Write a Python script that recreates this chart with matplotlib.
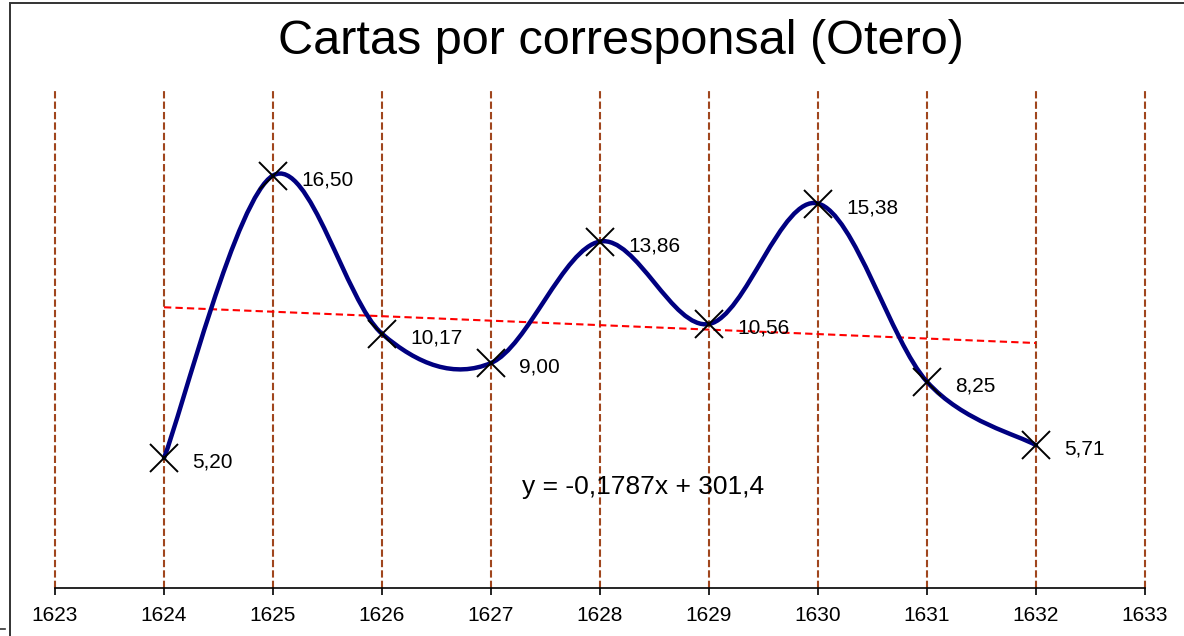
import numpy as np
import matplotlib
matplotlib.use("Agg")
import matplotlib.pyplot as plt
from matplotlib.path import Path
from matplotlib.patches import PathPatch, Rectangle
from matplotlib.lines import Line2D

plt.rcParams['font.family'] = ['Liberation Sans', 'DejaVu Sans']

# data
years = [1624, 1625, 1626, 1627, 1628, 1629, 1630, 1631, 1632]
cartas = [5.20, 16.50, 10.17, 9.00, 13.86, 10.56, 15.38, 8.25, 5.71]
labels = ['5,20', '16,50', '10,17', '9,00', '13,86', '10,56', '15,38', '8,25', '5,71']
xticks = list(range(1623, 1634))
equation = 'y = -0,1787x + 301,4'

fig = plt.figure(figsize=(11.84, 6.36), dpi=100)
ax = fig.add_axes([55/1184, 48/636, 1090/1184, 500/636])
ax.set_xlim(1623, 1633)
ax.set_ylim(0, 20)

# vertical dashed grid lines
for x in xticks:
    ax.axvline(x, color='#A0461E', lw=1.5, dashes=(3.5, 1.5), zorder=1, clip_on=False)

# smoothed line (excel-like bezier through points)
x = np.array(years, dtype=float)
y = np.array(cartas)
px = np.concatenate([[x[0]], x, [x[-1]]])
py = np.concatenate([[y[0]], y, [y[-1]]])
verts = [(x[0], y[0])]
codes = [Path.MOVETO]
for i in range(1, len(px) - 2):
    c1 = (px[i] + (px[i+1] - px[i-1]) / 6, py[i] + (py[i+1] - py[i-1]) / 6)
    c2 = (px[i+1] - (px[i+2] - px[i]) / 6, py[i+1] - (py[i+2] - py[i]) / 6)
    verts += [c1, c2, (px[i+1], py[i+1])]
    codes += [Path.CURVE4] * 3
ax.add_patch(PathPatch(Path(verts, codes), fill=False, edgecolor='#000080',
                       lw=3.2, zorder=3, capstyle='round', joinstyle='round'))

ax.plot(years, cartas, ls='none', marker='x', ms=20, mew=1.4, color='black', zorder=4)

# trend line
m, b = np.polyfit(x, y, 1)
ax.plot([x[0], x[-1]], [m * x[0] + b, m * x[-1] + b], color='#FF0000', lw=1.5,
        dashes=(3.5, 2), zorder=2)

for xi, yi, lab in zip(years, cartas, labels):
    ax.annotate(lab, (xi, yi), xytext=(28, -4), textcoords='offset pixels',
                ha='left', va='center', fontsize=15, zorder=5)

ax.text(1627.285, 4.05, equation, ha='left', va='center', fontsize=19, zorder=5)

ax.set_xticks(xticks)
ax.set_xticklabels([str(t) for t in xticks], fontsize=15)
ax.set_yticks([])
for s in ['left', 'right', 'top']:
    ax.spines[s].set_visible(False)
ax.spines['bottom'].set_linewidth(1.2)
ax.tick_params(axis='x', length=5, width=1.2, pad=8, direction='out')
ax.patch.set_alpha(0)

fig.text(621/1184, 1 - 42/636, 'Cartas por corresponsal (Otero)', ha='center',
         va='center', fontsize=35)

# outer frame
fig.add_artist(Rectangle((10/1184, -0.05), 1.2, 1.05 - 3/636, transform=fig.transFigure,
                         fill=False, edgecolor='#333333', lw=1.4))
fig.add_artist(Line2D([0, 5/1184], [1 - 629/636, 1 - 629/636], transform=fig.transFigure,
                      color='#333333', lw=1.2))

fig.savefig('out.png', dpi=100)
